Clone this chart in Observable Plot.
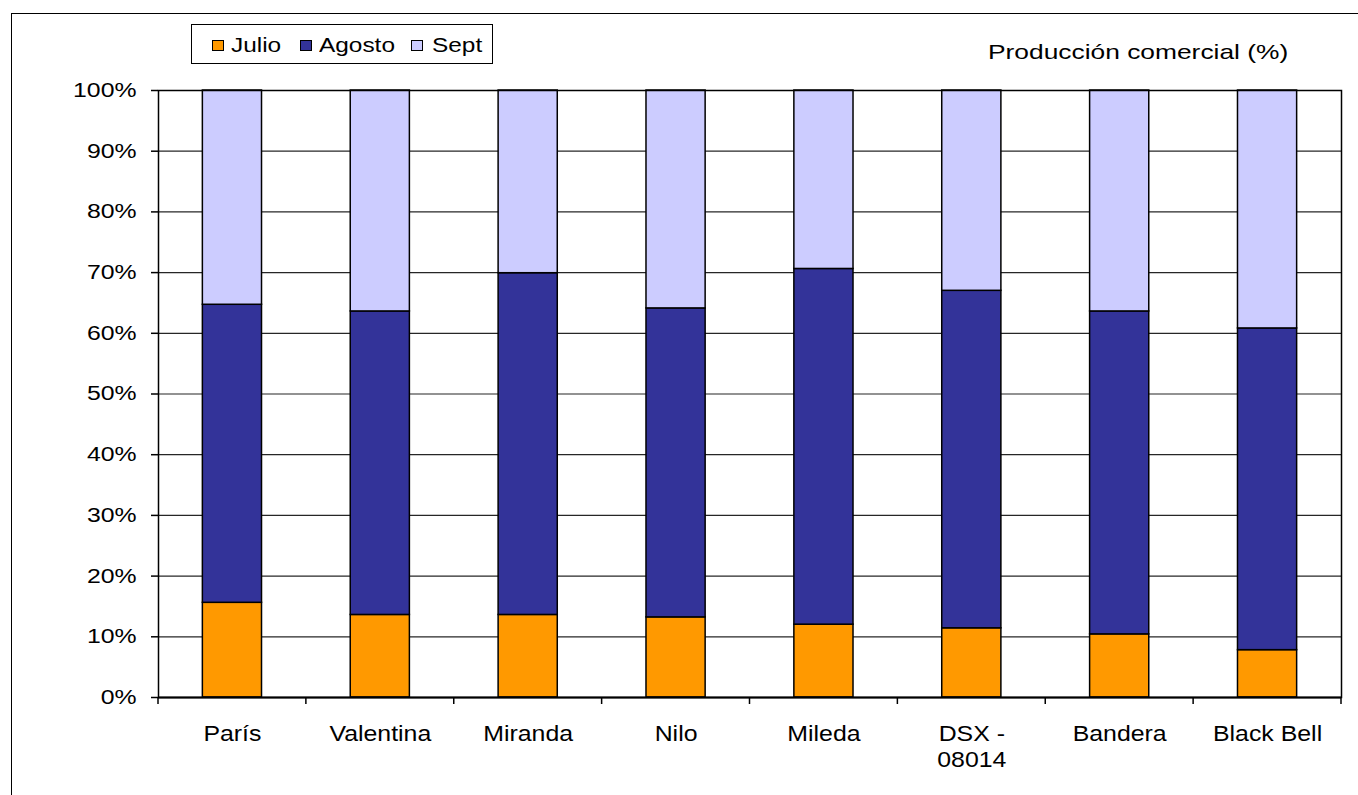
<!DOCTYPE html>
<html>
<head>
<meta charset="utf-8">
<script src="https://cdn.jsdelivr.net/npm/d3@7"></script>
<script src="https://cdn.jsdelivr.net/npm/@observablehq/plot@0.6"></script>
<style>
  html, body { margin: 0; padding: 0; background: white; overflow: hidden; }
  #wrap { position: relative; width: 1358px; height: 795px; font-family: "Liberation Sans", Arial, sans-serif; }
  #chart { position: absolute; left: 0; top: 0; }
  #border { position: absolute; left: 11px; top: 13px; width: 1400px; height: 820px; border-left: 1.5px solid #000; border-top: 1.5px solid #000; pointer-events: none; }
  #legend { position: absolute; left: 191px; top: 24px; width: 302px; height: 40px; box-sizing: border-box; border: 1.5px solid #000; background: white; }
  .sw { position: absolute; top: 15px; width: 12px; height: 11px; box-sizing: border-box; border: 1px solid #000; }
  .lt { position: absolute; top: 8px; font-size: 20px; line-height: 24px; color: #000; transform: scaleX(1.22); transform-origin: 0 50%; white-space: nowrap; }
  #title { position: absolute; left: 988px; top: 40px; font-size: 21px; line-height: 24px; color: #000; white-space: nowrap; transform: scaleX(1.255); transform-origin: 0 50%; }
</style>
</head>
<body>
<div id="wrap">
  <div id="chart"></div>
  <div id="border"></div>
  <div id="legend"></div>
  <div id="title">Producción comercial (%)</div>
</div>
<script>
const categories = ["París", "Valentina", "Miranda", "Nilo", "Mileda", "DSX -\n08014", "Bandera", "Black Bell"];
const series = ["Julio", "Agosto", "Sept"];
const colors = ["#FF9900", "#333399", "#CCCCFF"];
const julio  = [15.6, 13.6, 13.6, 13.2, 12.0, 11.4, 10.4, 7.8];
const agosto = [49.1, 50.0, 56.3, 50.9, 58.6, 55.6, 53.2, 53.0];
const sept   = [35.3, 36.4, 30.1, 35.9, 29.4, 33.0, 36.4, 39.2];
const yTicks = [0, 10, 20, 30, 40, 50, 60, 70, 80, 90, 100];

const seriesValues = [julio, agosto, sept];
const data = [];
series.forEach((s, i) => {
  categories.forEach((c, j) => data.push({cat: c, series: s, value: seriesValues[i][j]}));
});

const padInner = 0.6;

function categoryTicks(index, scales, values, dims) {
  const x = scales.x, y = scales.y;
  const step = x(categories[1]) - x(categories[0]);
  const bw = step * (1 - padInner);
  const y0 = y(0);
  const g = d3.create("svg:g");
  const edges = categories.map(c => x(c) - (step - bw) / 2);
  edges.push(x(categories[categories.length - 1]) + bw + (step - bw) / 2);
  for (const e of edges) {
    g.append("line").attr("x1", e).attr("x2", e).attr("y1", y0).attr("y2", y0 + 7)
      .attr("stroke", "#000").attr("stroke-width", 1.5);
  }
  return g.node();
}

const plot = Plot.plot({
  width: 1358,
  height: 795,
  marginLeft: 158,
  marginRight: 17,
  marginTop: 90,
  marginBottom: 98,
  style: {fontFamily: "'Liberation Sans', Arial, sans-serif", fontSize: "20px", color: "#000", background: "transparent"},
  x: {domain: categories, paddingInner: padInner, paddingOuter: padInner / 2, round: false, label: null},
  y: {domain: [0, 100], label: null},
  color: {domain: series, range: colors},
  marks: [
    Plot.gridY(yTicks, {stroke: "#000", strokeOpacity: 0.85, strokeWidth: 1.2}),
    Plot.barY(data, {x: "cat", y: "value", fill: "series", stroke: "#000", strokeWidth: 1.5, order: null}),
    Plot.frame({stroke: "#000", strokeWidth: 1.5}),
    Plot.ruleY([0], {stroke: "#000", strokeWidth: 2}),
    Plot.axisY({ticks: yTicks, tickSize: 7, tickPadding: 15, tickFormat: d => d + "%", stroke: "#000", strokeWidth: 1.5, fontSize: 20}),
    Plot.axisX({tickSize: 0, tickPadding: 24, fontSize: 22, lineHeight: 1.22}),
    categoryTicks
  ]
});
document.getElementById("chart").appendChild(plot);

function stretch(group, factor) {
  if (!group) return;
  group.querySelectorAll("text").forEach(t => {
    const spans = t.querySelectorAll("tspan");
    const targets = spans.length ? Array.from(spans) : [t];
    targets.forEach(el => {
      const len = el.getComputedTextLength();
      if (len > 0) {
        el.setAttribute("textLength", len * factor);
        el.setAttribute("lengthAdjust", "spacingAndGlyphs");
      }
    });
  });
}
stretch(plot.querySelector("[aria-label='y-axis tick label']"), 1.24);
stretch(plot.querySelector("[aria-label='x-axis tick label']"), 1.13);

// legend
const legend = document.getElementById("legend");
const swLeft = [20, 108, 219];
const txtLeft = [39, 127, 240];
series.forEach((s, i) => {
  const sw = document.createElement("div");
  sw.className = "sw";
  sw.style.left = swLeft[i] + "px";
  sw.style.background = colors[i];
  legend.appendChild(sw);
  const t = document.createElement("div");
  t.className = "lt";
  t.style.left = txtLeft[i] + "px";
  t.textContent = s;
  legend.appendChild(t);
});
</script>
</body>
</html>
